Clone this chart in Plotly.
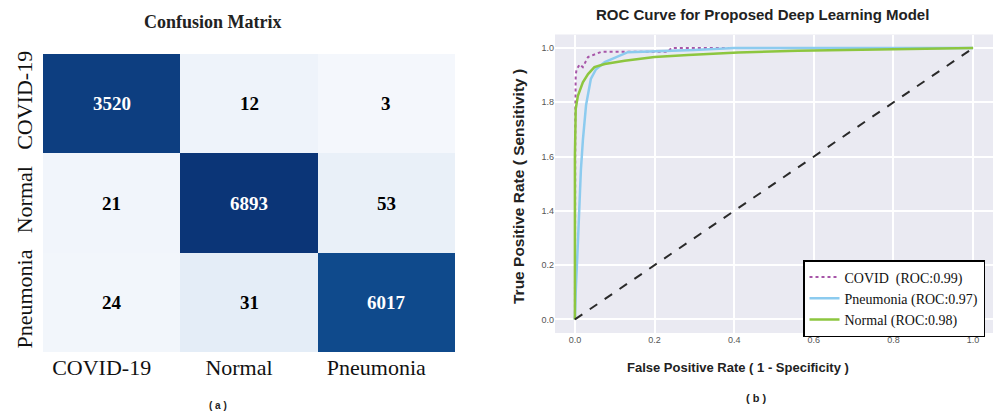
import plotly.graph_objects as go

# ---------------- data ----------------
classes = ["COVID-19", "Normal", "Pneumonia"]
cm_covid = [3520, 12, 3]
cm_normal = [21, 6893, 53]
cm_pneumonia = [24, 31, 6017]

covid_fpr = [0.0, 0.0, 0.001, 0.002, 0.004, 0.012, 0.020, 0.033, 0.045, 0.066, 0.234, 0.242, 1.0]
covid_tpr = [0.0, 0.40, 0.75, 0.898, 0.92, 0.94, 0.93, 0.967, 0.975, 0.986, 0.986, 1.0, 1.0]

pneu_fpr = [0.0, 0.002, 0.008, 0.015, 0.020, 0.028, 0.040, 0.053, 0.075, 0.108, 0.133, 0.30, 0.40, 1.0]
pneu_tpr = [0.0, 0.10, 0.30, 0.55, 0.66, 0.79, 0.886, 0.922, 0.948, 0.970, 0.985, 0.993, 1.0, 1.0]

norm_fpr = [0.0, 0.0, 0.002, 0.0075, 0.020, 0.033, 0.049, 0.075, 0.125, 0.20, 0.284, 0.41, 0.56, 0.81, 1.0]
norm_tpr = [0.0, 0.60, 0.775, 0.824, 0.874, 0.904, 0.930, 0.941, 0.953, 0.967, 0.974, 0.984, 0.990, 0.995, 1.0]

legend_names = ["COVID  (ROC:0.99)", "Pneumonia (ROC:0.97)", "Normal (ROC:0.98)"]
roc_ticks = [0.0, 0.2, 0.4, 0.6, 0.8, 1.0]
roc_xticktext = ["0.0", "0.2", "0.4", "0.6", "0.8", "1.0"]
roc_yticktext = ["0.0", "0.2", "1.4", "1.6", "1.8", "1.0"]

# ---------------- figure ----------------
W, H = 995, 414
SERIF = "Liberation Serif, Times New Roman, serif"
SANS = "Liberation Sans, Arial, sans-serif"

z = [cm_covid, cm_normal, cm_pneumonia]
zmax = max(max(r) for r in z)

colorscale = [
    [0.0, "#f6f9fd"],
    [0.0017, "#eef3fa"],
    [0.0035, "#f2f6fb"],
    [0.0045, "#e4edf7"],
    [0.0077, "#e9f0f8"],
    [0.02, "#d6e3f1"],
    [0.51, "#0d3e80"],
    [0.873, "#0f4a8c"],
    [1.0, "#0b3577"],
]

fig = go.Figure()
fig.add_trace(go.Heatmap(
    z=z, x=classes, y=classes, colorscale=colorscale, zmin=0, zmax=zmax,
    showscale=False, xaxis="x", yaxis="y", hoverinfo="skip", xgap=0, ygap=0,
))

annotations = []
for i, row in enumerate(z):
    for j, v in enumerate(row):
        annotations.append(dict(
            x=classes[j], y=classes[i], xref="x", yref="y", text=f"<b>{v}</b>",
            showarrow=False,
            font=dict(family=SERIF, size=19, color="white" if v > zmax / 4 else "black"),
        ))

# ROC curves
fig.add_trace(go.Scatter(x=covid_fpr, y=covid_tpr, mode="lines", name=legend_names[0],
                         line=dict(color="#a755a8", width=2, dash="dot"), xaxis="x2", yaxis="y2"))
fig.add_trace(go.Scatter(x=pneu_fpr, y=pneu_tpr, mode="lines", name=legend_names[1],
                         line=dict(color="#8ccbef", width=2.5), xaxis="x2", yaxis="y2"))
fig.add_trace(go.Scatter(x=norm_fpr, y=norm_tpr, mode="lines", name=legend_names[2],
                         line=dict(color="#8dc63f", width=2.5), xaxis="x2", yaxis="y2"))
fig.add_trace(go.Scatter(x=[0, 1], y=[0, 1], mode="lines", showlegend=False,
                         line=dict(color="#2a2a2a", width=2, dash="dash"), xaxis="x2", yaxis="y2"))

def px(xp):
    return xp / W

def py(yp):
    return 1 - yp / H

def label(text, x, y, size, family=SANS, angle=0):
    return dict(text=text, x=px(x), y=py(y), xref="paper", yref="paper",
                xanchor="center", yanchor="middle", showarrow=False, textangle=angle,
                font=dict(family=family, size=size, color="#222"))

annotations += [
    label("<b>Confusion Matrix</b>", 213, 22, 18, SERIF),
    label("<b>( a )</b>", 218, 405, 10),
    label("<b>ROC Curve for Proposed Deep Learning Model</b>", 762, 14, 15),
    label("<b>False Positive Rate ( 1 - Specificity )</b>", 738, 367, 13),
    label("<b>True Positive Rate ( Sensitivity )</b>", 518, 187, 15.5, angle=-90),
    label("<b>( b )</b>", 756, 398, 11),
]

fig.update_layout(
    width=W, height=H, margin=dict(l=0, r=0, t=0, b=0),
    paper_bgcolor="white", plot_bgcolor="#eaeaf2",
    annotations=annotations,
    xaxis=dict(domain=[px(43), px(455)], showgrid=False, zeroline=False, ticks="",
               automargin=False, ticklabelshift=-10,
               tickfont=dict(family=SERIF, size=22, color="#111"), anchor="y"),
    yaxis=dict(domain=[py(352), py(54)], autorange="reversed", showgrid=False, zeroline=False,
               ticks="", tickangle=-90, automargin=False, ticklabelstandoff=6,
               tickfont=dict(family=SERIF, size=22, color="#111"), anchor="x"),
    xaxis2=dict(domain=[px(555), px(993)], range=[-0.05, 1.05], anchor="y2", automargin=False,
                tickvals=roc_ticks, ticktext=roc_xticktext, showgrid=True, gridcolor="white",
                gridwidth=1.5, zeroline=False, ticks="", showline=False,
                tickfont=dict(family=SANS, size=9, color="#555")),
    yaxis2=dict(domain=[py(333), py(34.5)], range=[-0.05, 1.05], anchor="x2", automargin=False,
                tickvals=roc_ticks, ticktext=roc_yticktext, showgrid=True, gridcolor="white",
                gridwidth=1.5, zeroline=False, ticks="", showline=False,
                tickfont=dict(family=SANS, size=9, color="#555")),
    showlegend=True,
    legend=dict(x=px(803), y=py(260), xanchor="left", yanchor="top",
                bgcolor="white", bordercolor="black", borderwidth=1.5,
                font=dict(family=SERIF, size=14, color="#111"),
                itemwidth=30, tracegroupgap=0),
)

fig.write_html("out.html", config={"displayModeBar": False},
               post_script="document.body.style.margin='0';")
